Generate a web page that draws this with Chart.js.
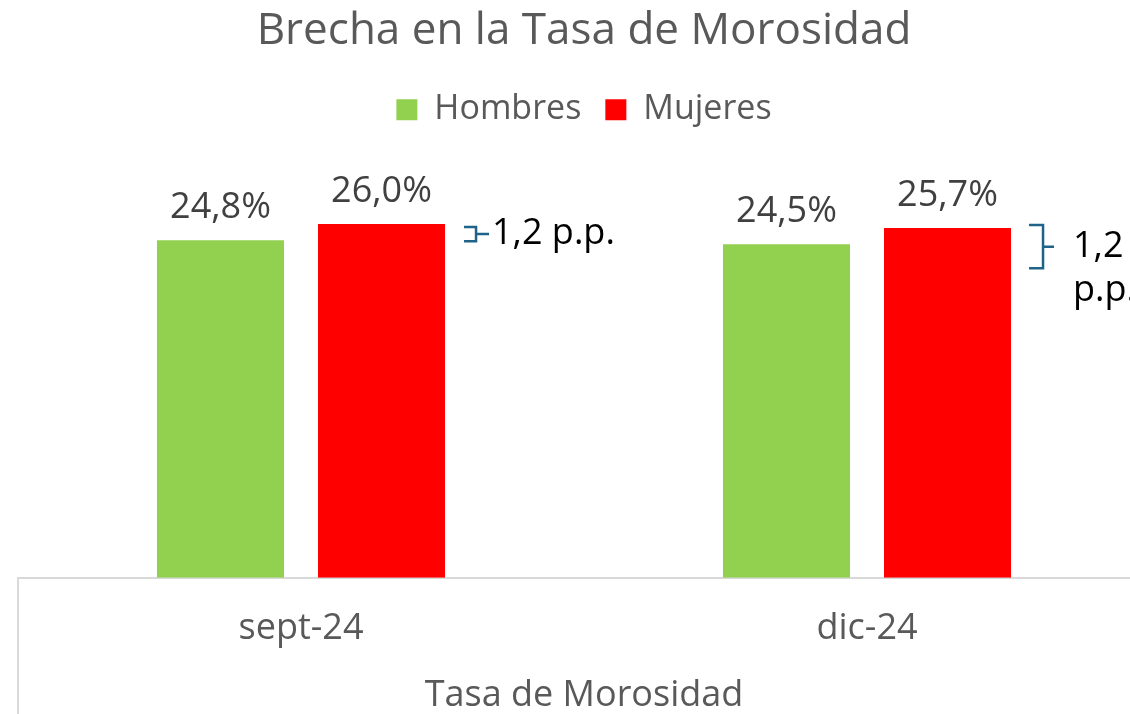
<!DOCTYPE html>
<html>
<head>
<meta charset="utf-8">
<script src="https://cdn.jsdelivr.net/npm/chart.js@4.4.1/dist/chart.umd.min.js"></script>
<style>
  html, body { margin:0; padding:0; background:#fff; overflow:hidden; }
  #wrap { width:1165px; height:714px; }
</style>
</head>
<body>
<div id="wrap"><canvas id="chart_gap"></canvas></div>
<script>
const categories = ['sept-24', 'dic-24'];
const hombres = [24.8, 24.5];
const mujeres = [26.0, 25.7];
const gapLabels = [['1,2 p.p.'], ['1,2', 'p.p.']];

const FONT = "'Open Sans', sans-serif";

// labels on top of each bar
const barLabels = {
  id: 'barLabels',
  afterDatasetsDraw(chart) {
    const ctx = chart.ctx;
    ctx.save();
    ctx.font = '36px ' + FONT;
    ctx.fillStyle = '#404040';
    ctx.textAlign = 'center';
    ctx.textBaseline = 'alphabetic';
    chart.data.datasets.forEach((ds, i) => {
      chart.getDatasetMeta(i).data.forEach((bar, j) => {
        ctx.fillText(ds.data[j].toFixed(1).replace('.', ',') + '%', bar.x, bar.y - 22);
      });
    });
    ctx.restore();
  }
};

// curly bracket + gap text next to the red bar
const gapNotes = {
  id: 'gapNotes',
  afterDatasetsDraw(chart) {
    const ctx = chart.ctx;
    const red = chart.getDatasetMeta(1).data;
    const green = chart.getDatasetMeta(0).data;
    ctx.save();
    red.forEach((bar, j) => {
      const lines = gapLabels[j];
      const tall = lines.length > 1;
      const x0 = bar.x + bar.width / 2 + (tall ? 18 : 19);
      const top = tall ? bar.y - 3 : bar.y + 3;
      const bottom = tall ? green[j].y + 24 : green[j].y + 1;
      const mid = (top + bottom) / 2;
      const w = tall ? 14 : 12;
      ctx.strokeStyle = '#1f6388';
      ctx.lineWidth = 2.5;
      ctx.beginPath();
      ctx.moveTo(x0, top);
      ctx.lineTo(x0 + w, top);
      ctx.lineTo(x0 + w, bottom);
      ctx.lineTo(x0, bottom);
      ctx.moveTo(x0 + w, mid);
      ctx.lineTo(x0 + w + (tall ? 11 : 13), mid);
      ctx.stroke();
      ctx.fillStyle = '#000';
      ctx.font = '36px ' + FONT;
      ctx.textBaseline = 'middle';
      ctx.textAlign = 'left';
      const tx = x0 + w + (tall ? 30 : 16);
      lines.forEach((t, k) => ctx.fillText(t, tx, mid + k * 44));
    });
    ctx.restore();
  }
};

// left boundary line of the category axis
const axisFrame = {
  id: 'axisFrame',
  afterDraw(chart) {
    const ctx = chart.ctx;
    const x = chart.chartArea.left;
    ctx.save();
    ctx.strokeStyle = '#d9d9d9';
    ctx.lineWidth = 2;
    ctx.beginPath();
    ctx.moveTo(x, chart.chartArea.bottom);
    ctx.lineTo(x, chart.height);
    ctx.stroke();
    ctx.restore();
  }
};

new Chart(document.getElementById('chart_gap'), {
  type: 'bar',
  data: {
    labels: categories,
    datasets: [
      { label: 'Hombres', data: hombres, backgroundColor: '#92d050' },
      { label: 'Mujeres', data: mujeres, backgroundColor: '#ff0000' }
    ]
  },
  plugins: [barLabels, gapNotes, axisFrame],
  options: {
    responsive: true,
    maintainAspectRatio: false,
    animation: false,
    layout: { padding: { left: 18, right: 15, top: 0, bottom: 0 } },
    datasets: {
      bar: { categoryPercentage: 0.569, barPercentage: 0.789 }
    },
    plugins: {
      title: {
        display: true,
        text: 'Brecha en la Tasa de Morosidad',
        color: '#595959',
        font: { family: FONT, size: 44, weight: 'normal' },
        padding: { top: 5, bottom: 11 }
      },
      legend: {
        display: true,
        labels: {
          color: '#595959',
          font: { family: FONT, size: 34 },
          boxWidth: 21,
          boxHeight: 21,
          padding: 24
        }
      },
      tooltip: { enabled: false }
    },
    scales: {
      x: {
        grid: { display: false, drawTicks: false },
        border: { display: true, color: '#d9d9d9', width: 2 },
        ticks: { color: '#595959', font: { family: FONT, size: 36 }, padding: 29 },
        title: {
          display: true,
          text: 'Tasa de Morosidad',
          color: '#595959',
          font: { family: FONT, size: 36, lineHeight: 1 },
          padding: { top: -1, bottom: 0 }
        }
      },
      y: { display: false, min: 0, max: 32.4 }
    }
  }
});
</script>
</body>
</html>
